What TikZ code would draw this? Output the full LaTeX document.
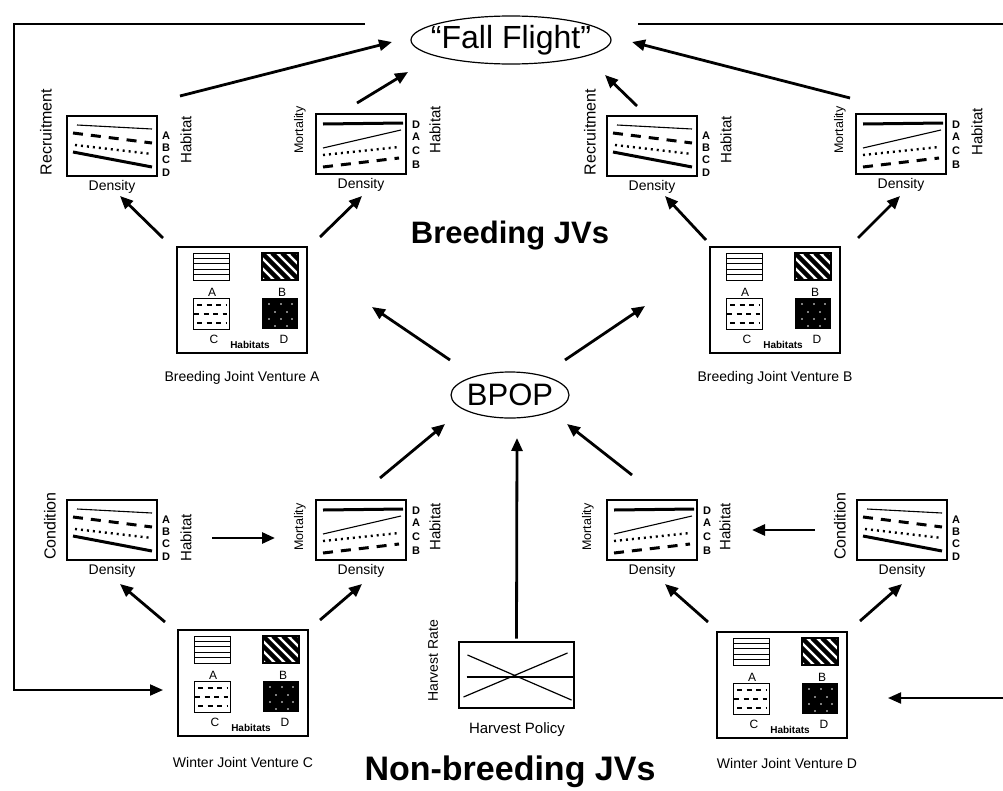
\documentclass[tikz,border=0pt]{standalone}
\usepackage{fontspec}
\setmainfont{Liberation Sans}
\usetikzlibrary{arrows.meta,shapes.geometric,calc}
\newcommand{\fsz}[1]{\fontsize{#1}{#1}\selectfont}
\newcommand{\declgraph}[1]{%
\begin{scope}[shift={(#1.center)}]
\draw[thinl] (-35,-21) -- (40,-17);
\draw[dashl] (-39,-13) -- (40,-3);
\draw[dotl] (-37,-1) -- (40,8);
\draw[thickl] (-39,6) -- (40,21);
\node[glet] (#1-A) at (54,-10) {A};
\node[glet] (#1-B) at (54,2) {B};
\node[glet] (#1-C) at (54,14) {C};
\node[glet] (#1-D) at (54,27) {D};
\node[xlab] (#1-x) at (0,41) {Density};
\end{scope}}
\newcommand{\mortgraph}[1]{%
\begin{scope}[shift={(#1.center)}]
\draw[thickl] (-38,-20) -- (42,-21);
\draw[thinl] (-38,4) -- (40,-14);
\draw[dotl] (-38,11) -- (38,3);
\draw[dashl] (-38,23) -- (38,14);
\node[glet] (#1-D) at (55,-19) {D};
\node[glet] (#1-A) at (55,-7) {A};
\node[glet] (#1-C) at (55,7) {C};
\node[glet] (#1-B) at (55,21) {B};
\node[xlab] (#1-x) at (0,41) {Density};
\end{scope}}
\newcommand{\habpatches}[1]{%
\begin{scope}[shift={(#1.center)}]
\draw[line width=1pt] (-49,-47) rectangle (-13,-20);
\foreach \yy in {-41.6,-36.2,-30.8,-25.4} {\draw[line width=1pt] (-49,\yy) -- (-13,\yy);}
\begin{scope}
\clip (20,-47) rectangle (56,-20);
\foreach \k in {-40,-30,...,40} {\draw[line width=4.5pt] (\k+20,-47) -- (\k+47,-20);}
\end{scope}
\draw[line width=1.2pt] (20,-47) rectangle (56,-20);
\draw[line width=1pt] (-49,-2) rectangle (-13,29);
\draw[cdash] (-45,5) -- (-15,5);
\draw[cdash] (-48,14) -- (-15,14);
\draw[cdash] (-45,23) -- (-15,23);
\fill (20,-2) rectangle (56,29);
\foreach \p in {(27,4),(39,4),(50,4),(33,12),(45,12),(27,19),(39,19),(50,19),(33,26),(45,26)} {\fill[white] \p circle (0.9pt);}
\node[hlet] (#1-A) at (-30,-8) {A};
\node[hlet] (#1-B) at (40,-8) {B};
\node[hlet] (#1-C) at (-28,39) {C};
\node[hlet] (#1-D) at (42,39) {D};
\node[font=\fsz{10}\bfseries,inner sep=0] (#1-h) at (8,45) {Habitats};
\end{scope}}
\begin{document}
\begin{tikzpicture}[x=1pt,y=-1pt,
  arr/.style={line width=2.8pt,-{Triangle[length=13pt,width=11pt]}},
  fbline/.style={line width=2pt},
  fbarr/.style={line width=2pt,-{Triangle[length=13pt,width=11pt]}},
  gbox/.style={draw,line width=1.6pt,minimum width=90pt,minimum height=60pt,inner sep=0},
  hbox/.style={draw,line width=2.6pt,minimum width=130pt,minimum height=106pt,inner sep=0},
  thinl/.style={line width=1.1pt},
  thickl/.style={line width=3pt},
  dashl/.style={line width=3pt,dash pattern=on 10pt off 8pt},
  dotl/.style={line width=2.4pt,dash pattern=on 2pt off 4pt},
  cdash/.style={line width=1.2pt,dash pattern=on 5pt off 4.5pt},
  glet/.style={font=\fsz{11}\bfseries,inner sep=0},
  hlet/.style={font=\fsz{12},inner sep=0},
  xlab/.style={font=\fsz{14},inner sep=0},
  ylab/.style={font=\fsz{16},inner sep=0,rotate=90},
  mlab/.style={font=\fsz{12.5},inner sep=0,rotate=90},
  hablab/.style={font=\fsz{15},inner sep=0,rotate=90},
  capt/.style={font=\fsz{14},inner sep=0},
  oval/.style={draw,ellipse,line width=1.2pt,inner sep=0}
]
\useasboundingbox[fill=white] (0,0) rectangle (1003,790);

% ovals
\node[oval,minimum width=200pt,minimum height=48pt] (ff) at (511,40) {};
\node[font=\fsz{32},inner sep=0] (fft) at (ff.center) {“Fall Flight”};
\node[oval,minimum width=118pt,minimum height=46pt] (bpop) at (510,395) {};
\node[font=\fsz{31},inner sep=0] (bpopt) at (bpop.center) {BPOP};

% titles
\node[font=\fsz{31}\bfseries,inner sep=0] (bjv) at (510,236) {Breeding JVs};
\node[font=\fsz{34}\bfseries,inner sep=0] (njv) at (510,772) {Non-breeding JVs};

% graphs top
\node[gbox] (g1) at (112,146) {};
\declgraph{g1}
\node[ylab] (g1-y) at (46,132) {Recruitment};
\node[hablab] (g1-h) at (186,140) {Habitat};

\node[gbox] (g2) at (361,144) {};
\mortgraph{g2}
\node[mlab] (g2-y) at (300,130) {Mortality};
\node[hablab] (g2-h) at (435,130) {Habitat};

\node[gbox] (g3) at (652,146) {};
\declgraph{g3}
\node[ylab] (g3-y) at (590,132) {Recruitment};
\node[hablab] (g3-h) at (726,140) {Habitat};

\node[gbox] (g4) at (901,144) {};
\mortgraph{g4}
\node[mlab] (g4-y) at (840,130) {Mortality};
\node[hablab] (g4-h) at (977,132) {Habitat};

% graphs bottom
\node[gbox] (g5) at (112,530) {};
\declgraph{g5}
\node[ylab] (g5-y) at (50,526) {Condition};
\node[hablab] (g5-h) at (186,538) {Habitat};

\node[gbox] (g6) at (361,530) {};
\mortgraph{g6}
\node[mlab] (g6-y) at (300,527) {Mortality};
\node[hablab] (g6-h) at (435,527) {Habitat};

\node[gbox] (g7) at (652,530) {};
\mortgraph{g7}
\node[mlab] (g7-y) at (588,527) {Mortality};
\node[hablab] (g7-h) at (725,527) {Habitat};

\node[gbox] (g8) at (902,530) {};
\declgraph{g8}
\node[ylab] (g8-y) at (840,526) {Condition};

% habitat boxes
\node[hbox] (ha) at (242,300) {};
\habpatches{ha}
\node[capt] (ha-c) at (242,378) {Breeding Joint Venture A};
\node[hbox] (hb) at (775,300) {};
\habpatches{hb}
\node[capt] (hb-c) at (775,378) {Breeding Joint Venture B};
\node[hbox] (hc) at (243,683) {};
\habpatches{hc}
\node[capt] (hc-c) at (243,762) {Winter Joint Venture C};
\node[hbox] (hd) at (782,685) {};
\habpatches{hd}
\node[capt] (hd-c) at (787,763) {Winter Joint Venture D};

% harvest policy
\node[draw,line width=2.6pt,minimum width=115pt,minimum height=66pt,inner sep=0] (hp) at (516.5,675) {};
\begin{scope}[shift={(hp.center)}]
\draw[line width=1.2pt] (-49,-20) -- (55,25);
\draw[line width=1.2pt] (-53,22) -- (51,-22);
\draw[line width=1.2pt] (-50,2) -- (56,2);
\end{scope}
\node[font=\fsz{14},inner sep=0,rotate=90] (hp-y) at (433,661) {Harvest Rate};
\node[font=\fsz{15},inner sep=0] (hp-c) at (517,730) {Harvest Policy};

% arrows
\draw[arr] ($(ha.center)+(-79,-62)$) -- ($(g1.center)+(8,50)$);
\draw[arr] ($(ha.center)+(78,-63)$) -- ($(g2.center)+(1,52)$);
\draw[arr] ($(hb.center)+(-69,-60)$) -- ($(g3.center)+(13,50)$);
\draw[arr] ($(hb.center)+(83,-62)$) -- ($(g4.center)+(-1,52)$);
\draw[arr] ($(bpop.center)+(-60,-35)$) -- ($(ha.center)+(130,7)$);
\draw[arr] ($(bpop.center)+(55,-35)$) -- ($(hb.center)+(-130,6)$);
\draw[arr] ($(g6.center)+(19,-52)$) -- ($(bpop.center)+(-65,29)$);
\draw[arr] ($(g7.center)+(-20,-55)$) -- ($(bpop.center)+(57,29)$);
\draw[arr] ($(hp.north)+(0,-2)$) -- ($(bpop.center)+(7,43)$);
\draw[arr] ($(g5.center)+(100,8)$) -- ($(g6.center)+(-86,8)$);
\draw[arr] ($(g8.center)+(-87,0)$) -- ($(g7.center)+(100,0)$);
\draw[arr] ($(hc.center)+(-78,-61)$) -- ($(g5.center)+(8,54)$);
\draw[arr] ($(hc.center)+(77,-63)$) -- ($(g6.center)+(1,54)$);
\draw[arr] ($(hd.center)+(-74,-63)$) -- ($(g7.center)+(13,54)$);
\draw[arr] ($(hd.center)+(78,-64)$) -- ($(g8.center)+(0,54)$);
\draw[arr] ($(g1.center)+(68,-50)$) -- ($(ff.center)+(-119,2)$);
\draw[arr] ($(g2.center)+(-4,-41)$) -- ($(ff.center)+(-103,32)$);
\draw[arr] ($(g3.center)+(-15,-40)$) -- ($(ff.center)+(94,35)$);
\draw[arr] ($(g4.center)+(-51,-46)$) -- ($(ff.center)+(121,2)$);

% feedback lines
\coordinate (lcorner) at (14,24);
\coordinate (tr) at (1003,24);
\coordinate (br) at (1003,698);
\draw[fbarr] ($(ff.center)+(-146,-16)$) -- (lcorner) |- ($(hc.center)+(-80,7)$);
\draw[fbline] ($(ff.center)+(127,-16)$) -- (tr);
\draw[fbarr] (br) -- ($(hd.center)+(106,13)$);
\end{tikzpicture}
\end{document}
